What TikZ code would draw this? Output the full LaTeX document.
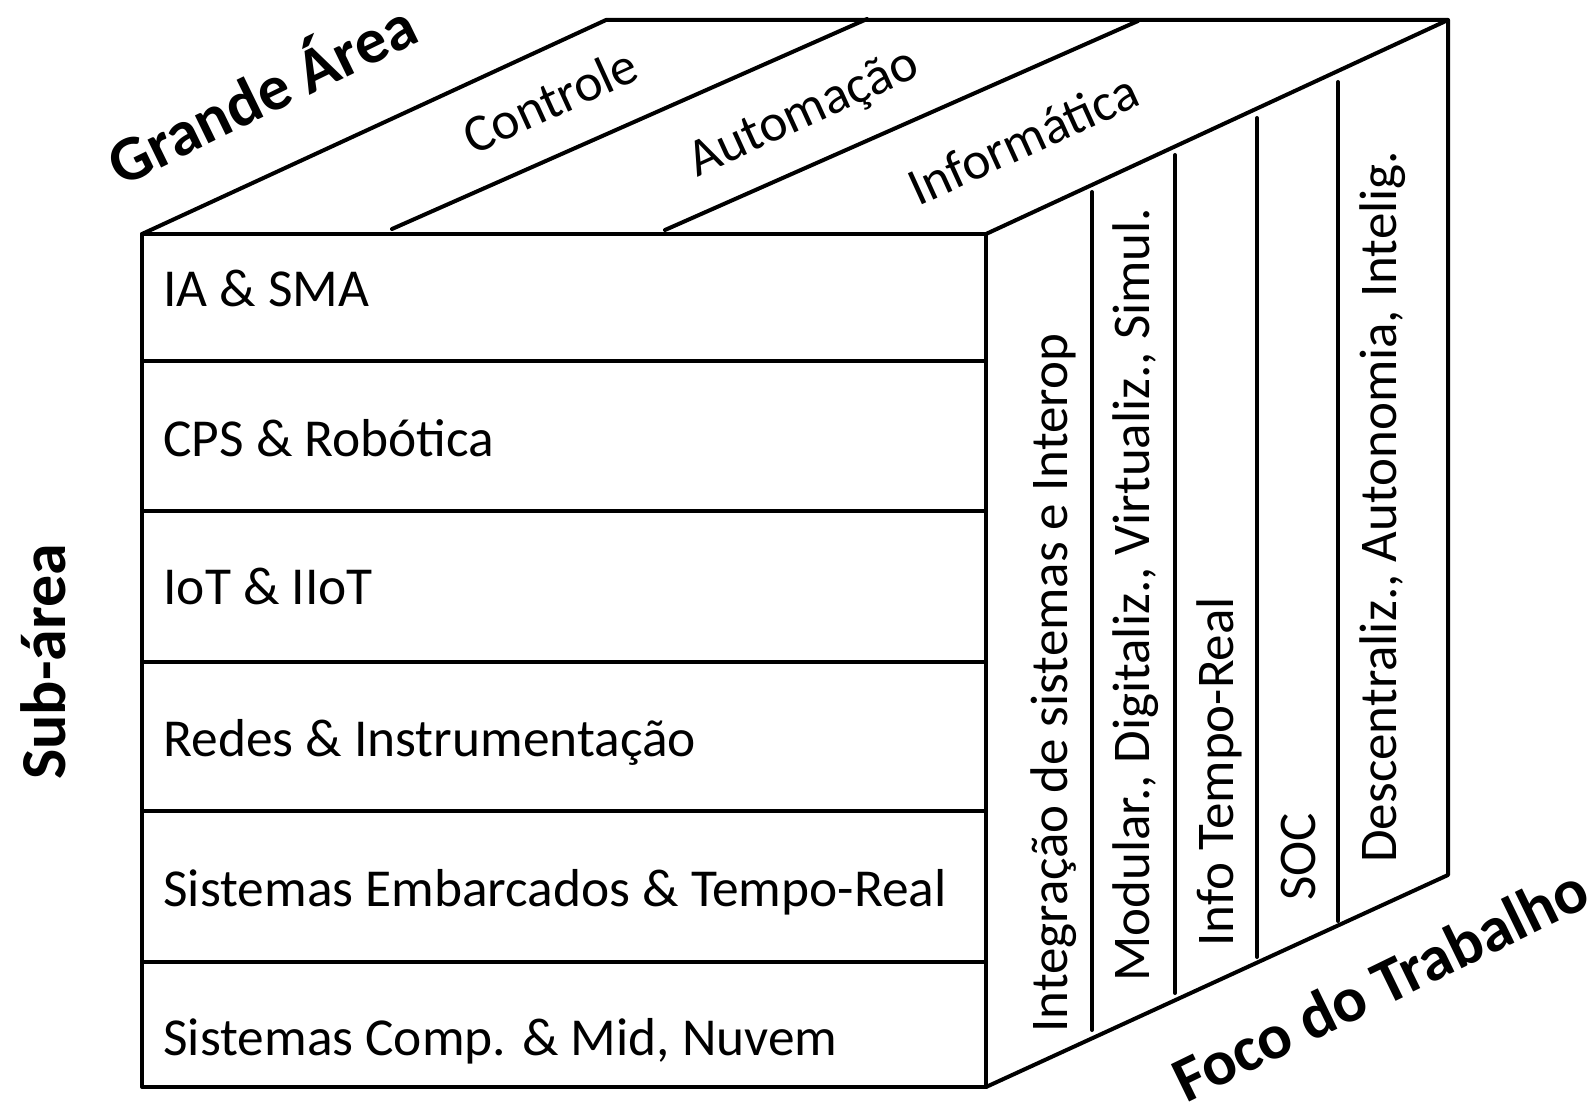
\documentclass[tikz,border=0pt]{standalone}
\usepackage{fontspec}
\setmainfont{Carlito}
\begin{document}
\begin{tikzpicture}[x=0.5pt,y=-0.5pt,
  edge/.style={line width=2pt, line cap=round, line join=round},
  rowlabel/.style={anchor=base west, inner sep=0pt, font=\fontsize{26.7}{30}\selectfont},
  sidelabel/.style={anchor=base west, inner sep=0pt, rotate=90, font=\fontsize{26.5}{30}\selectfont},
  toplabel/.style={anchor=center, inner sep=0pt, rotate=24.5, font=\fontsize{26.5}{30}\selectfont},
  axislabel/.style={anchor=center, inner sep=0pt, font=\bfseries\fontsize{32}{36}\selectfont}]
\useasboundingbox (0,0) rectangle (1596,1106);
% corners
\coordinate (FTL) at (142,234);
\coordinate (FTR) at (986,234);
\coordinate (FBL) at (142,1087);
\coordinate (FBR) at (986,1087);
\coordinate (BTL) at (606,20);
\coordinate (BTR) at (1448,20);
\coordinate (BBR) at (1448,875);
% front face
\draw[edge] (FTL) -- (FTR) -- (FBR) -- (FBL) -- cycle;
\foreach \y in {361,511,662,811,962} \draw[edge] (142,\y) -- (986,\y);
% top face
\draw[edge] (FTL) -- (BTL) -- (BTR) -- (FTR);
\draw[edge] (392,229) -- (867,19);
\draw[edge] (665,230) -- (1138,21);
% right face
\draw[edge] (BTR) -- (BBR) -- (FBR);
\draw[edge] (1092,192) -- (1092,1030);
\draw[edge] (1175,155) -- (1175,993);
\draw[edge] (1257,118) -- (1257,957);
\draw[edge] (1338,82) -- (1338,921);
% row labels
\node[rowlabel] (r1) at (163,307) {IA \& SMA};
\node[rowlabel] (r2) at (163,457) {CPS \& Robótica};
\node[rowlabel] (r3) at (163,605) {IoT \& IIoT};
\node[rowlabel] (r4) at (163,756) {Redes \& Instrumentação};
\node[rowlabel] (r5) at (163,906) {Sistemas Embarcados \& Tempo-Real};
\node[rowlabel] (r6) at (163,1055) {Sistemas Comp. \& Mid, Nuvem};
% side labels
\node[sidelabel] (s1) at (1067,1033) {Integração de sistemas e Interop};
\node[sidelabel] (s2) at (1149,982) {Modular., Digitaliz., Virtualiz., Simul.};
\node[sidelabel] (s3) at (1233,947) {Info Tempo-Real};
\node[sidelabel] (s4) at (1315,901) {SOC};
\node[sidelabel] (s5) at (1396,863) {Descentraliz., Autonomia, Intelig.};
% top labels
\node[toplabel] (t1) at (550,100) {Controle};
\node[toplabel] (t2) at (804,114) {Automação};
\node[toplabel] (t3) at (1023,139) {Informática};
% axis labels
\node[axislabel, rotate=26] (ga) at (260,90) {Grande Área};
\node[axislabel, rotate=90] (sa) at (43,662) {Sub-área};
\node[axislabel, rotate=26] (ft) at (1380,984) {Foco do Trabalho};
\end{tikzpicture}
\end{document}
